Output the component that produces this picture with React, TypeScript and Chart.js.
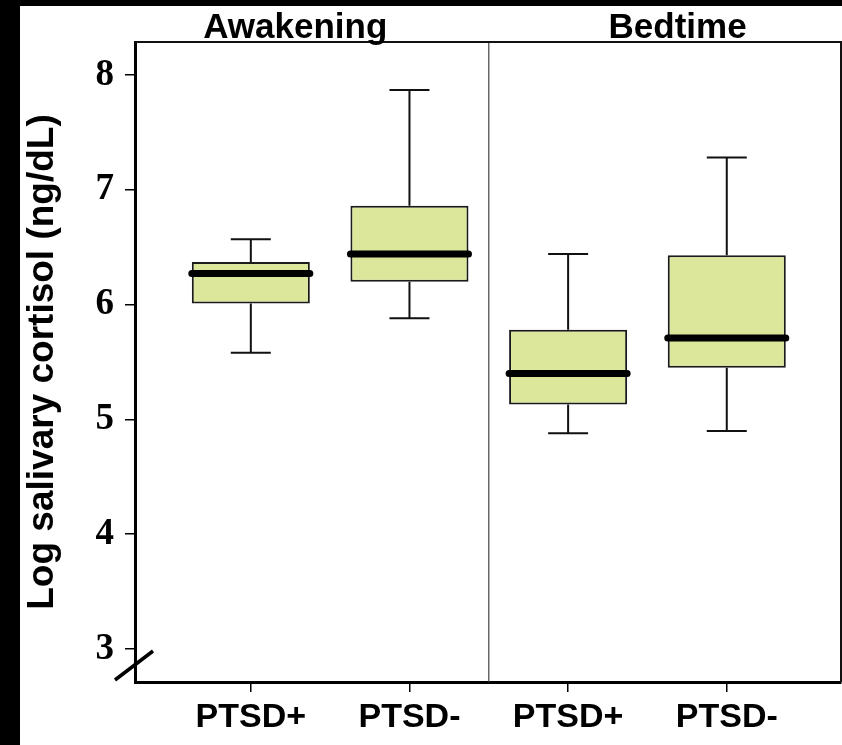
import React, { useEffect, useRef } from "react";
import { Chart, registerables } from "chart.js";

Chart.register(...registerables);

// ---- data ----
const categories = ["PTSD+", "PTSD-", "PTSD+", "PTSD-"];
const panelTitles = ["Awakening", "Bedtime"];
const panelTitleAt = [1.28, 3.69];
const panelDivider = 2.5;
const whiskerLow = [5.58, 5.88, 4.88, 4.9];
const q1 = [6.01, 6.2, 5.13, 5.45];
const median = [6.27, 6.44, 5.4, 5.71];
const q3 = [6.37, 6.86, 5.78, 6.43];
const whiskerHigh = [6.57, 7.87, 6.44, 7.28];
const yTickValues = [3, 4, 5, 6, 7, 8];
const xTickValues = [1, 2, 3, 4];
const yMin = 2.713;
const yMax = 8.287;
const xMin = 0.27;
const xMax = 4.72;

const BOX_FILL = "#dde79b";
const SANS = "'Liberation Sans', Arial, sans-serif";
const SERIF = "'Liberation Serif', 'Times New Roman', serif";

const capHalf = 0.126;
const medHalf = 0.372;

function buildWhiskers() {
  const pts: any[] = [];
  q1.forEach((_, i) => {
    const x = i + 1;
    pts.push({ x, y: whiskerLow[i] }, { x, y: q1[i] }, { x, y: null });
    pts.push({ x, y: q3[i] }, { x, y: whiskerHigh[i] }, { x, y: null });
  });
  return pts;
}
function buildCaps() {
  const pts: any[] = [];
  q1.forEach((_, i) => {
    const x = i + 1;
    pts.push({ x: x - capHalf, y: whiskerLow[i] }, { x: x + capHalf, y: whiskerLow[i] }, { x, y: null });
    pts.push({ x: x - capHalf, y: whiskerHigh[i] }, { x: x + capHalf, y: whiskerHigh[i] }, { x, y: null });
  });
  return pts;
}
function buildMedians() {
  const pts: any[] = [];
  median.forEach((m, i) => {
    const x = i + 1;
    pts.push({ x: x - medHalf, y: m }, { x: x + medHalf, y: m }, { x, y: null });
  });
  return pts;
}

const framePlugin = {
  id: "framePlugin",
  beforeDraw(chart: any) {
    const { ctx, width, height } = chart;
    ctx.save();
    ctx.fillStyle = "#000";
    ctx.fillRect(0, 0, width, height);
    ctx.fillStyle = "#fff";
    ctx.fillRect(20, 6, width - 20, height - 6);
    ctx.restore();
  },
  afterDraw(chart: any) {
    const { ctx, chartArea } = chart;
    const { left, top, right, bottom } = chartArea;
    const xs = chart.scales.x;
    ctx.save();
    ctx.strokeStyle = "#111";
    ctx.lineWidth = 2;
    ctx.beginPath();
    ctx.moveTo(left, top);
    ctx.lineTo(right, top);
    ctx.lineTo(right, bottom);
    ctx.stroke();
    ctx.strokeStyle = "#000";
    ctx.lineWidth = 3.5;
    ctx.beginPath();
    ctx.moveTo(left - 20, bottom - 2);
    ctx.lineTo(left + 18, bottom - 31);
    ctx.stroke();
    ctx.fillStyle = "#000";
    ctx.font = `bold 35px ${SANS}`;
    ctx.textAlign = "center";
    ctx.textBaseline = "alphabetic";
    panelTitles.forEach((t, i) => {
      ctx.fillText(t, xs.getPixelForValue(panelTitleAt[i]), top - 4);
    });
    ctx.restore();
  },
};

export default function App() {
  const ref = useRef<HTMLCanvasElement>(null);
  useEffect(() => {
    document.body.style.margin = "0";
    const chart = new Chart(ref.current as HTMLCanvasElement, {
      type: "bar",
      data: {
        datasets: [
          {
            type: "line",
            data: buildMedians(),
            borderColor: "#000",
            borderWidth: 7,
            borderCapStyle: "round",
            pointRadius: 0,
            spanGaps: false,
            order: 0,
          } as any,
          {
            type: "bar",
            data: q1.map((v, i) => ({ x: i + 1, y: [v, q3[i]] })),
            backgroundColor: BOX_FILL,
            borderColor: "#1a1a1a",
            borderWidth: 2,
            borderSkipped: false,
            categoryPercentage: 1,
            barPercentage: 0.744,
            order: 1,
          } as any,
          {
            type: "line",
            data: buildWhiskers(),
            borderColor: "#111",
            borderWidth: 2,
            pointRadius: 0,
            spanGaps: false,
            order: 2,
          } as any,
          {
            type: "line",
            data: buildCaps(),
            borderColor: "#111",
            borderWidth: 2,
            pointRadius: 0,
            spanGaps: false,
            order: 2,
          } as any,
          {
            type: "line",
            data: [
              { x: panelDivider, y: yMin },
              { x: panelDivider, y: yMax },
            ],
            borderColor: "#444",
            borderWidth: 1.2,
            pointRadius: 0,
            order: 3,
          } as any,
        ],
      },
      options: {
        responsive: false,
        animation: false,
        devicePixelRatio: 1,
        layout: { padding: { left: 0, top: 42, right: 1, bottom: 0 } },
        plugins: { legend: { display: false }, tooltip: { enabled: false } },
        scales: {
          x: {
            type: "linear",
            min: xMin,
            max: xMax,
            offset: false,
            afterBuildTicks: (s: any) => {
              s.ticks = xTickValues.map((v) => ({ value: v }));
            },
            afterFit: (s: any) => {
              s.height = 63;
            },
            ticks: {
              callback: (v: any) => categories[Math.round(v) - 1],
              color: "#000",
              font: { family: SANS, size: 34, weight: "bold" },
              padding: 5,
              maxRotation: 0,
              autoSkip: false,
            },
            grid: {
              offset: false,
              drawOnChartArea: false,
              drawTicks: true,
              tickLength: 10,
              color: "#000",
              lineWidth: 1.5,
            },
            border: { display: true, color: "#000", width: 3 },
          },
          y: {
            type: "linear",
            min: yMin,
            max: yMax,
            afterBuildTicks: (s: any) => {
              s.ticks = yTickValues.map((v) => ({ value: v }));
            },
            afterFit: (s: any) => {
              s.width = 135;
            },
            ticks: {
              color: "#000",
              font: { family: SERIF, size: 37, weight: "bold" },
              padding: 11,
            },
            grid: {
              drawOnChartArea: false,
              drawTicks: true,
              tickLength: 10,
              color: "#000",
              lineWidth: 1.5,
            },
            border: { display: true, color: "#000", width: 3 },
            title: {
              display: true,
              text: "Log salivary cortisol (ng/dL)",
              color: "#000",
              font: { family: SANS, size: 37, weight: "bold" },
              padding: { top: 21, bottom: 0 },
            },
          },
        },
      },
      plugins: [framePlugin],
    } as any);
    return () => chart.destroy();
  }, []);
  return (
    <div style={{ position: "absolute", left: 0, top: 0, width: 842, height: 745 }}>
      <canvas ref={ref} width={842} height={745} style={{ display: "block" }} />
    </div>
  );
}
